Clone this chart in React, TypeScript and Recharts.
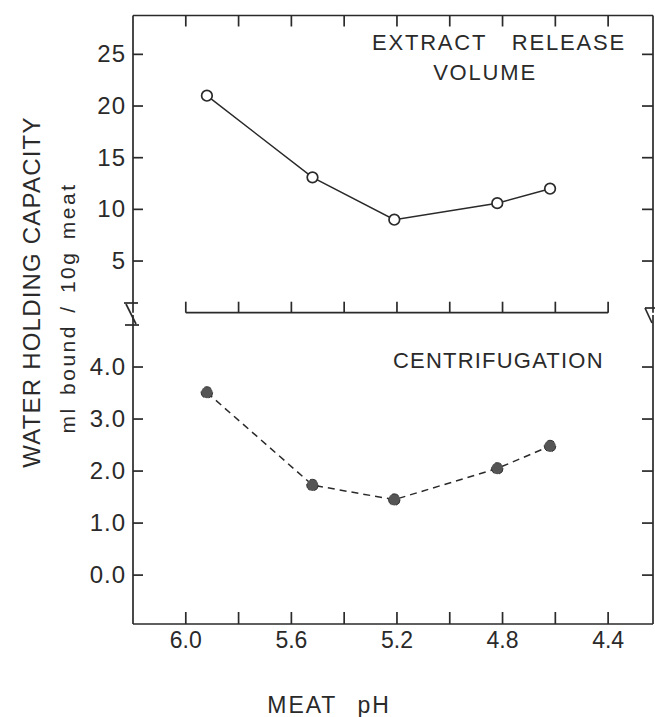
import React from 'react';
import { LineChart, Line, XAxis, YAxis, ReferenceLine } from 'recharts';

// meat pH of each sample (shared by both panels)
const phValues = [5.92, 5.52, 5.21, 4.82, 4.62];
// ml bound / 10g meat
const extractVolume = [21.0, 13.1, 9.0, 10.6, 12.0];
const centrifugation = [3.51, 1.73, 1.45, 2.05, 2.48];

const phTicks = [6.0, 5.8, 5.6, 5.4, 5.2, 5.0, 4.8, 4.6, 4.4];
const phLabels = [6.0, 5.6, 5.2, 4.8, 4.4];
const volumeTicks = [5, 10, 15, 20, 25];
const centTicks = [0, 1, 2, 3, 4];

const extractData = phValues.map((ph, i) => ({ ph, v: extractVolume[i] }));
const centData = phValues.map((ph, i) => ({ ph, v: centrifugation[i] }));

const INK = '#2a2a2a';
const FONT = '"Liberation Sans", Arial, sans-serif';
const W = 655;
const H = 717;
const PH_DOMAIN = [4.23, 6.2];
const SW = 1.7;

const LeftTick = (p: any, fmt: (v: number) => string) => (
  <g>
    <line x1={p.x} y1={p.y} x2={p.x + 10} y2={p.y} stroke={INK} strokeWidth={SW} />
    <text x={p.x - 7} y={p.y + 8} textAnchor="end" fontSize={24} letterSpacing={1} fill={INK} fontFamily={FONT}>
      {fmt(p.payload.value)}
    </text>
  </g>
);

const RightTick = (p: any) => (
  <line x1={p.x} y1={p.y} x2={p.x - 11} y2={p.y} stroke={INK} strokeWidth={SW} />
);

const TopTick = (p: any) => (
  <line x1={p.x} y1={p.y} x2={p.x} y2={p.y + 11} stroke={INK} strokeWidth={SW} />
);

// ticks on the short baseline of the upper panel (6.0 .. 4.4 only)
const UpTick = (p: any) => {
  if (p.payload.value < 4.39 || p.payload.value > 6.01) return <g />;
  return <line x1={p.x} y1={p.y} x2={p.x} y2={p.y - 11} stroke={INK} strokeWidth={SW} />;
};

const BottomTick = (p: any) => (
  <g>
    <line x1={p.x} y1={p.y} x2={p.x} y2={p.y - 12} stroke={INK} strokeWidth={SW} />
    {phLabels.includes(p.payload.value) && (
      <text x={p.x} y={p.y + 24} textAnchor="middle" fontSize={23} fill={INK} fontFamily={FONT}>
        {p.payload.value.toFixed(1)}
      </text>
    )}
  </g>
);

const App = () => {
  return (
    <div style={{ position: 'absolute', left: 0, top: 0, width: W, height: H, background: '#fff' }}>
      {/* upper panel: extract release volume */}
      <div style={{ position: 'absolute', left: 0, top: 0 }}>
        <LineChart width={W} height={H} data={extractData} margin={{ top: 14.5, right: 1, bottom: H - 312.7 - 1, left: 132 }}>
          <XAxis xAxisId="main" dataKey="ph" type="number" domain={PH_DOMAIN} reversed allowDataOverflow
            ticks={phTicks} height={1} axisLine={false} tickLine={false} tickSize={0} tickMargin={0} tick={UpTick} />
          <XAxis xAxisId="top" orientation="top" dataKey="ph" type="number" domain={PH_DOMAIN} reversed allowDataOverflow
            ticks={phTicks} height={1} axisLine={{ stroke: INK, strokeWidth: SW }} tickLine={false} tickSize={0} tickMargin={0} tick={TopTick} />
          <YAxis yAxisId="left" type="number" domain={[0, 28.76]} allowDataOverflow ticks={volumeTicks} width={1}
            axisLine={{ stroke: INK, strokeWidth: SW }} tickLine={false} tickSize={0} tickMargin={0}
            tick={(p: any) => LeftTick(p, (v) => String(v))} />
          <YAxis yAxisId="right" orientation="right" type="number" domain={[0, 28.76]} allowDataOverflow ticks={volumeTicks} width={1}
            axisLine={{ stroke: INK, strokeWidth: SW }} tickLine={false} tickSize={0} tickMargin={0} tick={RightTick} />
          <ReferenceLine xAxisId="main" yAxisId="left" segment={[{ x: 6.0, y: 0 }, { x: 4.4, y: 0 }]}
            stroke={INK} strokeWidth={SW} ifOverflow="visible" />
          <Line xAxisId="main" yAxisId="left" dataKey="v" type="linear" stroke={INK} strokeWidth={1.5}
            dot={{ r: 5.3, fill: '#fff', stroke: INK, strokeWidth: 1.7 }} isAnimationActive={false} />
        </LineChart>
      </div>

      {/* lower panel: centrifugation */}
      <div style={{ position: 'absolute', left: 0, top: 0 }}>
        <LineChart width={W} height={H} data={centData} margin={{ top: 315, right: 1, bottom: H - 624 - 1, left: 132 }}>
          <XAxis xAxisId="main" dataKey="ph" type="number" domain={PH_DOMAIN} reversed allowDataOverflow
            ticks={phTicks} height={1} axisLine={{ stroke: INK, strokeWidth: SW }} tickLine={false} tickSize={0} tickMargin={0} tick={BottomTick} />
          <YAxis yAxisId="left" type="number" domain={[-0.94, 5.0]} allowDataOverflow ticks={centTicks} width={1}
            axisLine={{ stroke: INK, strokeWidth: SW }} tickLine={false} tickSize={0} tickMargin={0}
            tick={(p: any) => LeftTick(p, (v) => v.toFixed(1))} />
          <YAxis yAxisId="right" orientation="right" type="number" domain={[-0.94, 5.0]} allowDataOverflow ticks={centTicks} width={1}
            axisLine={{ stroke: INK, strokeWidth: SW }} tickLine={false} tickSize={0} tickMargin={0} tick={RightTick} />
          <Line xAxisId="main" yAxisId="left" dataKey="v" type="linear" stroke={INK} strokeWidth={1.5} strokeDasharray="7 5"
            dot={{ r: 5.8, fill: '#555', stroke: '#333', strokeWidth: 1 }} isAnimationActive={false} />
        </LineChart>
      </div>

      {/* titles, axis labels and break marks */}
      <svg width={W} height={H} style={{ position: 'absolute', left: 0, top: 0, pointerEvents: 'none' }}>
        <g stroke={INK} strokeWidth={SW} fill="none">
          <line x1={124} y1={303} x2={138} y2={303} />
          <line x1={126} y1={304} x2={136} y2={324} />
          <line x1={125} y1={325} x2={139} y2={325} />
          <line x1={645} y1={308} x2={655} y2={308} />
          <line x1={645} y1={308} x2={652} y2={323} />
        </g>
        <g fill={INK} fontFamily={FONT}>
          <text x={372} y={50} fontSize={22} letterSpacing={1.8} wordSpacing={17}>EXTRACT RELEASE</text>
          <text x={485} y={80} fontSize={22} letterSpacing={1.8} textAnchor="middle">VOLUME</text>
          <text x={393} y={368} fontSize={22} letterSpacing={1.2}>CENTRIFUGATION</text>
          <text x={40} y={292} fontSize={24} letterSpacing={1.2} textAnchor="middle" transform="rotate(-90, 40, 292)">
            WATER HOLDING CAPACITY
          </text>
          <text x={75} y={308} fontSize={21} letterSpacing={2.5} wordSpacing={3} textAnchor="middle" transform="rotate(-90, 75, 308)">
            ml bound / 10g meat
          </text>
          <text x={329} y={713} fontSize={23} letterSpacing={2} wordSpacing={12} textAnchor="middle">MEAT pH</text>
        </g>
      </svg>
    </div>
  );
};

export default App;
